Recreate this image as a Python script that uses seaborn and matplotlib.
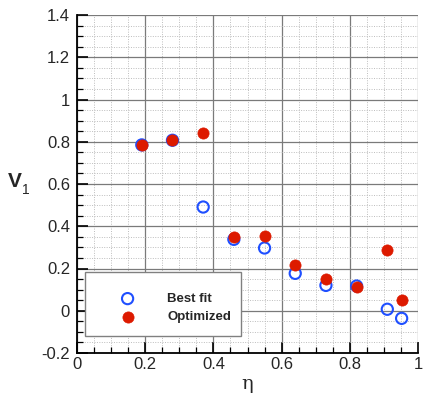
import numpy as np
import pandas as pd
import matplotlib
matplotlib.use("Agg")
import matplotlib.pyplot as plt
import seaborn as sns
from matplotlib.ticker import MultipleLocator
from matplotlib.patches import Rectangle

# Sampled positions along the span
eta = [0.19, 0.28, 0.37, 0.46, 0.55, 0.64, 0.73, 0.82, 0.91, 0.952]
best_fit = [0.785, 0.807, 0.491, 0.338, 0.297, 0.177, 0.120, 0.117, 0.007, -0.036]
optimized = [0.785, 0.807, 0.840, 0.348, 0.355, 0.217, 0.152, 0.114, 0.288, 0.051]
series_names = ["Best fit", "Optimized"]
x_ticks = [0, 0.2, 0.4, 0.6, 0.8, 1.0]
x_tick_labels = ["0", "0.2", "0.4", "0.6", "0.8", "1"]
y_ticks = [-0.2, 0, 0.2, 0.4, 0.6, 0.8, 1.0, 1.2, 1.4]
y_tick_labels = ["-0.2", "0", "0.2", "0.4", "0.6", "0.8", "1", "1.2", "1.4"]

df = pd.concat([
    pd.DataFrame({"eta": eta, "V1": best_fit, "series": series_names[0]}),
    pd.DataFrame({"eta": eta, "V1": optimized, "series": series_names[1]}),
])

sns.set_theme(style="white")
plt.rcParams["font.family"] = ["Liberation Sans", "DejaVu Sans"]

W, H = 424, 393
left_px, right_px, top_px, bottom_px = 77, 418, 15, 353
fig = plt.figure(figsize=(W / 100, H / 100), dpi=100)
ax = fig.add_axes([left_px / W, 1 - bottom_px / H,
                   (right_px - left_px) / W, (bottom_px - top_px) / H])

blue = "#1f4fff"
red = "#dd1a00"
bf = df[df.series == series_names[0]]
op = df[df.series == series_names[1]]
sns.scatterplot(data=bf, x="eta", y="V1", ax=ax, marker="o", s=65,
                facecolors="none", edgecolor=blue, linewidth=1.5,
                label=series_names[0], zorder=3)
sns.scatterplot(data=op, x="eta", y="V1", ax=ax, marker="o", s=65,
                color=red, edgecolor=red, linewidth=0.5,
                label=series_names[1], zorder=4)

ax.set_xlim(0, 1)
ax.set_ylim(-0.2, 1.4)
ax.set_xticks(x_ticks)
ax.set_xticklabels(x_tick_labels)
ax.set_yticks(y_ticks)
ax.set_yticklabels(y_tick_labels)
ax.xaxis.set_minor_locator(MultipleLocator(0.05))
ax.yaxis.set_minor_locator(MultipleLocator(0.05))

ax.grid(which="minor", color="#bdbdbd", linestyle=(0, (1, 1.5)), linewidth=0.7)
ax.grid(which="major", color="#7a7a7a", linestyle="-", linewidth=0.9)
ax.set_axisbelow(True)

for side in ["top", "right"]:
    ax.spines[side].set_visible(False)
for side in ["left", "bottom"]:
    ax.spines[side].set_color("black")
    ax.spines[side].set_linewidth(1.3)

ax.tick_params(axis="y", which="major", pad=5)
ax.tick_params(axis="x", which="major", pad=3)
ax.tick_params(which="major", direction="in", length=8, width=1.2, color="black",
               labelsize=12, left=True, bottom=True)
ax.tick_params(which="minor", direction="in", length=4, width=0.9, color="black",
               left=True, bottom=True)

ax.set_xlabel("η", fontsize=14, labelpad=2, family=["DejaVu Serif"])
ax.set_ylabel("")
# Y-axis title: bold V with a plain subscript 1
fig.text(15 / W, 1 - 181 / H, "V", fontsize=15, fontweight="bold",
         ha="center", va="center")
fig.text(26 / W, 1 - 190 / H, "1", fontsize=10,
         ha="center", va="center")

# Legend box and entries
ax.add_patch(Rectangle((0.023, 0.050), 0.458, 0.190, transform=ax.transAxes,
                       facecolor="white", edgecolor="#808080", linewidth=1.0,
                       zorder=5))
leg = ax.legend(loc="center left", bbox_to_anchor=(0.129, 0.133),
                borderaxespad=0, borderpad=0, frameon=False,
                handlelength=1.0, handletextpad=2.5, labelspacing=0.45,
                prop={"weight": "bold", "size": 9.5})
leg.set_zorder(6)

fig.savefig("out.png", dpi=100)
